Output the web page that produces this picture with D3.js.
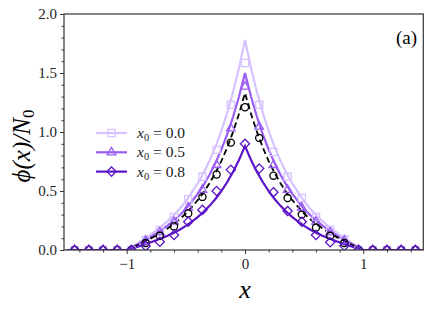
<!DOCTYPE html>
<html><head><meta charset="utf-8">
<script src="https://cdn.jsdelivr.net/npm/d3@7"></script>
<style>body{margin:0;background:#fff}svg{display:block}
text{font-family:"Liberation Serif",serif}</style>
</head><body>
<svg id="c" width="432" height="309"></svg>
<script>
// ---- data ----
const lineX = [-1.5,-1.0,-0.95,-0.9,-0.85,-0.8,-0.75,-0.7,-0.65,-0.6,-0.55,-0.5,-0.45,-0.4,-0.35,-0.3,-0.25,-0.2,-0.15,-0.1,-0.05,0,
  0.05,0.1,0.15,0.2,0.25,0.3,0.35,0.4,0.45,0.5,0.55,0.6,0.65,0.7,0.75,0.8,0.85,0.9,0.95,1.0,1.5];
const lineX00 = [0,0,0.030,0.062,0.094,0.128,0.166,0.205,0.249,0.297,0.352,0.413,0.488,0.564,0.653,0.757,0.874,1.009,1.164,1.342,1.547,1.78,
  1.547,1.342,1.164,1.009,0.874,0.757,0.653,0.564,0.488,0.413,0.352,0.297,0.249,0.205,0.166,0.128,0.094,0.062,0.030,0,0];
const lineX05 = [0,0,0.026,0.052,0.080,0.108,0.140,0.173,0.210,0.251,0.297,0.348,0.411,0.476,0.551,0.638,0.737,0.851,0.981,1.131,1.303,1.50,
  1.303,1.131,0.981,0.851,0.737,0.638,0.551,0.476,0.411,0.348,0.297,0.251,0.210,0.173,0.140,0.108,0.080,0.052,0.026,0,0];
const lineX08 = [0,0,0.015,0.031,0.047,0.063,0.082,0.101,0.123,0.147,0.174,0.204,0.241,0.279,0.323,0.374,0.432,0.499,0.576,0.664,0.765,0.88,
  0.765,0.664,0.576,0.499,0.432,0.374,0.323,0.279,0.241,0.204,0.174,0.147,0.123,0.101,0.082,0.063,0.047,0.031,0.015,0,0];
const lineDash = [0,0,0.023,0.047,0.070,0.096,0.124,0.153,0.186,0.222,0.263,0.309,0.364,0.422,0.488,0.565,0.653,0.754,0.870,1.003,1.156,1.33,
  1.156,1.003,0.870,0.754,0.653,0.565,0.488,0.422,0.364,0.309,0.263,0.222,0.186,0.153,0.124,0.096,0.070,0.047,0.023,0,0];

const markX = [-1.44,-1.32,-1.2,-1.08,-0.96,-0.84,-0.72,-0.6,-0.48,-0.36,-0.24,-0.12,0,0.12,0.24,0.36,0.48,0.6,0.72,0.84,0.96,1.08,1.2,1.32,1.44];
const markSquare  = [0,0,0,0,0,0.085,0.17,0.28,0.43,0.62,0.85,1.23,1.585,1.23,0.83,0.62,0.44,0.28,0.17,0.09,0,0,0,0,0];
const markTri     = [0,0,0,0,0,0.08,0.15,0.24,0.36,0.51,0.72,1.03,1.385,1.045,0.72,0.51,0.36,0.24,0.15,0.08,0,0,0,0,0];
const markCircle  = [0,0,0,0,0,0.06,0.12,0.20,0.31,0.45,0.64,0.91,1.21,0.95,0.63,0.44,0.30,0.19,0.12,0.06,0,0,0,0,0];
const markDiamond = [0,0,0,0,0,0.034,0.07,0.127,0.24,0.34,0.50,0.68,0.90,0.69,0.49,0.33,0.24,0.127,0.065,0.035,0,0,0,0,0];

const legendLabels = ["0.0","0.5","0.8"];
const yTicks = [0,0.5,1.0,1.5,2.0];
const xTicks = [-1,0,1];

// ---- layout ----
const L=64, R=423.3, T=14, B=250;
const x = d3.scaleLinear().domain([-1.53,1.507]).range([L,R]);
const y = d3.scaleLinear().domain([0,2]).range([B,T]);
const svg = d3.select("#c");
const cLight="#d6c2ff", cMid="#9a5cf2", cDark="#5b14c8";

svg.append("defs").append("clipPath").attr("id","clip")
  .append("rect").attr("x",L).attr("y",T).attr("width",R-L).attr("height",B-T);
const g = svg.append("g").attr("clip-path","url(#clip)");

const line = d3.line().x((d,i)=>x(lineX[i])).y(d=>y(d));

const diamondType = {draw(ctx,size){const r=Math.sqrt(size)/2;ctx.moveTo(0,-r);ctx.lineTo(r,0);ctx.lineTo(0,r);ctx.lineTo(-r,0);ctx.closePath();}};
const sym = {
  square: d3.symbol().type(d3.symbolSquare).size(52),
  tri: d3.symbol().type(d3.symbolTriangle).size(32),
  diamond: d3.symbol().type(diamondType).size(85),
  circle: d3.symbol().type(d3.symbolCircle).size(40)
};

const series = [
  {vals:lineX00, marks:markSquare, col:cLight, s:sym.square, w:2.2},
  {vals:lineX05, marks:markTri, col:cMid, s:sym.tri, w:2.2},
  {vals:lineDash, marks:markCircle, col:"#000", s:sym.circle, w:1.8, dash:"6,3.5"},
  {vals:lineX08, marks:markDiamond, col:cDark, s:sym.diamond, w:2.2}
];
series.forEach(sr=>{
  g.append("path").attr("d",line(sr.vals)).attr("fill","none")
    .attr("stroke",sr.col).attr("stroke-width",sr.w)
    .attr("stroke-dasharray",sr.dash||null);
});
series.forEach(sr=>{
  g.selectAll(null).data(sr.marks).enter().append("path")
    .attr("d",sr.s())
    .attr("transform",(d,i)=>`translate(${x(markX[i])},${y(d)})`)
    .attr("fill","none").attr("stroke",sr.col).attr("stroke-width",1.3);
});

// frame
svg.append("rect").attr("x",L).attr("y",T).attr("width",R-L).attr("height",B-T)
  .attr("fill","none").attr("stroke","#333").attr("stroke-width",1.2);

// axes
const yAxis = d3.axisLeft(y).tickValues(yTicks).tickFormat(d3.format(".1f")).tickSize(4).tickPadding(3);
const ya = svg.append("g").attr("transform",`translate(${L},0)`).call(yAxis);
const yMinor = d3.range(0,2.001,0.1).filter(v=>Math.abs(v*2-Math.round(v*2))>1e-6);
const yMa = svg.append("g").attr("transform",`translate(${L},0)`)
  .call(d3.axisLeft(y).tickValues(yMinor).tickFormat("").tickSize(2.5));
const xAxis = d3.axisBottom(x).tickValues(xTicks).tickFormat(d=>d<0?"\u2212"+Math.abs(d):d).tickSize(4).tickPadding(4);
const xa = svg.append("g").attr("transform",`translate(0,${B})`).call(xAxis);
const xMinor = d3.range(-1.4,1.401,0.2).filter(v=>Math.abs(v-Math.round(v))>1e-6);
const xMa = svg.append("g").attr("transform",`translate(0,${B})`)
  .call(d3.axisBottom(x).tickValues(xMinor).tickFormat("").tickSize(2.5));
[ya,yMa,xa,xMa].forEach(a=>{
  a.attr("font-family",null).attr("font-size",null);
  a.select(".domain").remove();
  a.selectAll("line").attr("stroke","#333");
  a.selectAll("text").attr("font-size",15).attr("fill","#222");
});

// labels
svg.append("text").attr("x",245).attr("y",298).attr("text-anchor","middle")
  .attr("font-style","italic").attr("font-size",26).text("x");
const yl = svg.append("text").attr("transform","translate(30,146) rotate(-90)")
  .attr("text-anchor","middle").attr("font-size",25);
yl.append("tspan").attr("font-style","italic").text("\u03D5(x)/N");
yl.append("tspan").attr("font-size",17).attr("dy",4).text("0");

svg.append("text").attr("x",417).attr("y",44).attr("text-anchor","end")
  .attr("font-size",19).text("(a)");

// legend
const legSeries = [series[0],series[1],series[3]];
legSeries.forEach((sr,i)=>{
  const ly = 133 + i*19.3;
  svg.append("line").attr("x1",96).attr("x2",127).attr("y1",ly).attr("y2",ly)
    .attr("stroke",sr.col).attr("stroke-width",sr.w);
  svg.append("path").attr("d",sr.s()).attr("transform",`translate(111.5,${ly})`)
    .attr("fill","none").attr("stroke",sr.col).attr("stroke-width",1.3);
  const t = svg.append("text").attr("x",137).attr("y",ly+5).attr("font-size",15.5).attr("fill","#222");
  t.append("tspan").attr("font-style","italic").text("x");
  t.append("tspan").attr("font-size",10.5).attr("dy",3).text("0");
  t.append("tspan").attr("dy",-3).text(" = "+legendLabels[i]);
});
</script>
</body></html>
